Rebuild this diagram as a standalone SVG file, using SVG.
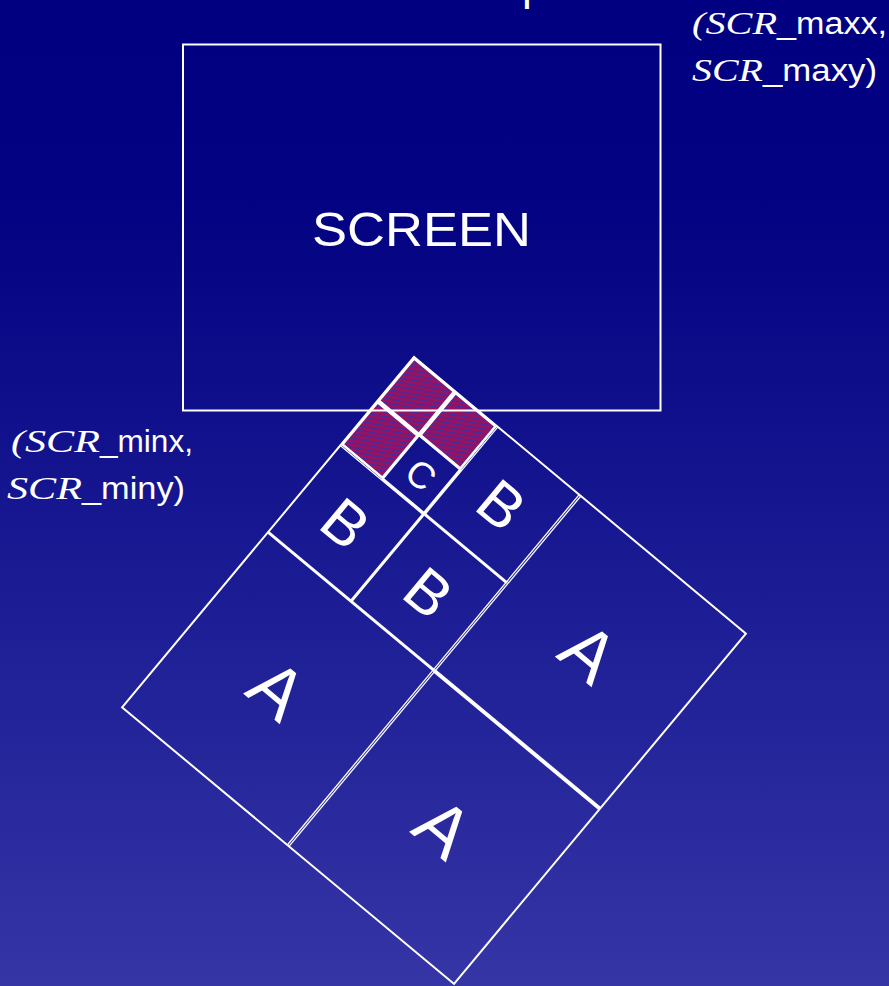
<svg xmlns="http://www.w3.org/2000/svg" width="889" height="986" viewBox="0 0 889 986">
<defs>
<linearGradient id="bg" x1="0" y1="0" x2="0" y2="1">
<stop offset="0" stop-color="#000080"/>
<stop offset="0.2" stop-color="#020282"/>
<stop offset="1" stop-color="#3535a6"/>
</linearGradient>
<pattern id="hatch" width="4.5" height="4.5" patternUnits="userSpaceOnUse" patternTransform="rotate(60)">
<rect width="4.5" height="4.5" fill="#981262"/>
<rect width="1.2" height="4.5" fill="#3a2ea4"/>
</pattern>
</defs>
<style>
.ln{stroke:#fff;fill:none;stroke-width:2}
.t3{stroke-width:3}
.t4{stroke-width:4}
.thin{stroke-width:1.3}
.hc{fill:url(#hatch);stroke:#fff;stroke-width:2.5}
.sans{font-family:"Liberation Sans",Arial,sans-serif;fill:#fff}
.ser{font-family:"Liberation Serif","Times New Roman",serif;font-style:italic;fill:#fff}
.ltr{font-family:"Liberation Sans",Arial,sans-serif;fill:#fff;text-anchor:middle}
</style>
<rect width="889" height="986" fill="url(#bg)"/>
<text class="sans" x="522" y="0" font-size="44">p</text>

<g id="quadtree" transform="translate(414,357) rotate(39.8)">
<g id="hatched">
<rect class="hc" x="1" y="1" width="52" height="55"/>
<rect class="hc" x="55" y="1" width="52" height="55"/>
<rect class="hc" x="1" y="58" width="52" height="55"/>
</g>
<g id="connectors">
<rect class="ln" x="0" y="0" width="432" height="456"/>
<line class="ln t3" x1="0" y1="228" x2="216" y2="228"/>
<line class="ln t4" x1="216" y1="228" x2="432" y2="228"/>
<line class="ln thin" x1="215" y1="228" x2="215" y2="456"/>
<line class="ln thin" x1="217.2" y1="228" x2="217.2" y2="456"/>
<line class="ln thin" x1="215" y1="0" x2="215" y2="228"/>
<line class="ln thin" x1="217.2" y1="0" x2="217.2" y2="228"/>
<line class="ln thin" x1="0" y1="113" x2="108" y2="113"/>
<line class="ln thin" x1="0" y1="115.2" x2="108" y2="115.2"/>
<line class="ln t3" x1="108" y1="114" x2="108" y2="228"/>
<line class="ln t3" x1="108" y1="114" x2="216" y2="114"/>
<line class="ln thin" x1="107" y1="0" x2="107" y2="114"/>
<line class="ln thin" x1="109.2" y1="0" x2="109.2" y2="114"/>
<rect class="ln" x="54" y="57" width="54" height="57"/>
</g>
<g id="cellA1"><text class="ltr" x="108" y="368" font-size="72">A</text></g>
<g id="cellA2"><text class="ltr" x="324" y="140" font-size="72">A</text></g>
<g id="cellA3"><text class="ltr" x="324" y="368" font-size="72">A</text></g>
<g id="cellB1"><text class="ltr" x="54" y="193" font-size="61">B</text></g>
<g id="cellB2"><text class="ltr" x="162" y="79" font-size="61">B</text></g>
<g id="cellB3"><text class="ltr" x="162" y="193" font-size="61">B</text></g>
<g id="cellC"><text class="ltr" x="81" y="99" font-size="37">C</text></g>
</g>

<g id="screen">
<rect class="ln" x="183" y="44.5" width="477.5" height="366"/>
<text class="ltr" x="421.5" y="246" font-size="49" textLength="219" lengthAdjust="spacingAndGlyphs">SCREEN</text>
</g>

<g id="label-max">
<text class="ser" x="692" y="34" font-size="31" textLength="85" lengthAdjust="spacingAndGlyphs">(SCR</text>
<text class="sans" x="777" y="34" font-size="31" textLength="110" lengthAdjust="spacingAndGlyphs">_maxx,</text>
<text class="ser" x="692" y="81" font-size="31" textLength="71" lengthAdjust="spacingAndGlyphs">SCR</text>
<text class="sans" x="763" y="81" font-size="31" textLength="114" lengthAdjust="spacingAndGlyphs">_maxy)</text>
</g>
<g id="label-min">
<text class="ser" x="11" y="452" font-size="31" textLength="89" lengthAdjust="spacingAndGlyphs">(SCR</text>
<text class="sans" x="100" y="452" font-size="31" textLength="93" lengthAdjust="spacingAndGlyphs">_minx,</text>
<text class="ser" x="7" y="499" font-size="31" textLength="75" lengthAdjust="spacingAndGlyphs">SCR</text>
<text class="sans" x="82" y="499" font-size="31" textLength="103" lengthAdjust="spacingAndGlyphs">_miny)</text>
</g>
</svg>
